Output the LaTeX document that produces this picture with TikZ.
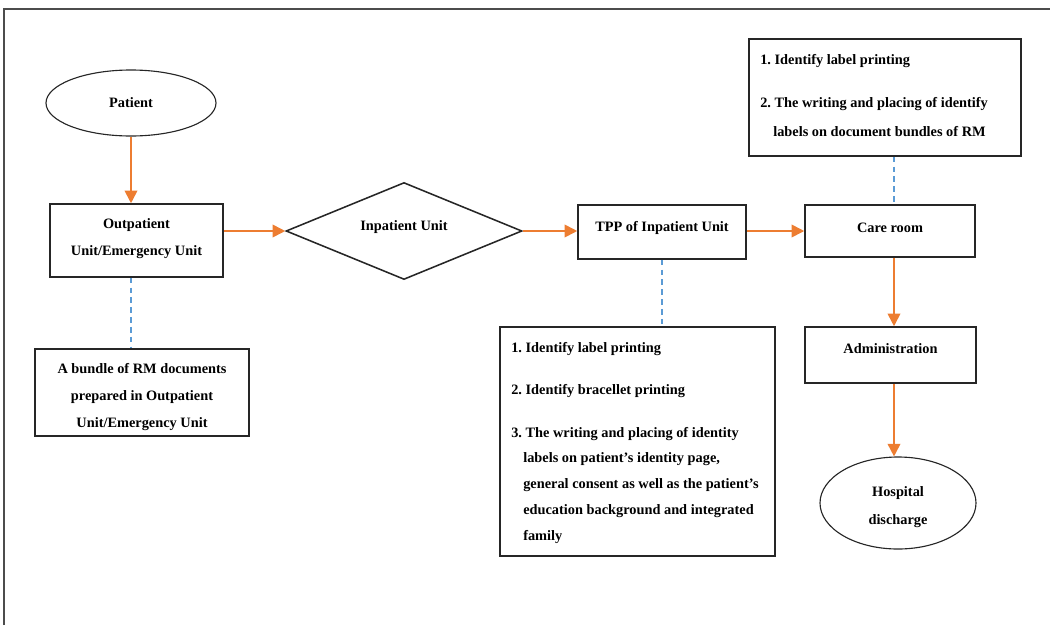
\documentclass[tikz,border=0pt]{standalone}
\usepackage{fontspec}
\setmainfont{Liberation Serif}
\usetikzlibrary{shapes.geometric,arrows.meta}
\definecolor{arrowor}{RGB}{237,125,49}
\definecolor{dashblue}{RGB}{91,155,213}
\def\pu{0.025cm}
\frenchspacing
\begin{document}
\begin{tikzpicture}[x=0.025cm,y=-0.025cm,
  box/.style={draw=black!85, line width=1.1pt, inner sep=0pt, fill=white},
  ell/.style={ellipse, draw=black!85, line width=0.8pt, inner sep=0pt},
  txt/.style={font=\fontsize{10.2}{13}\selectfont\bfseries, inner sep=0pt},
  ltxt/.style={txt, anchor=west},
  flow/.style={draw=arrowor, line width=1.2pt, -{Triangle[length=9pt,width=9pt]}},
  link/.style={draw=dashblue, line width=0.8pt, dash pattern=on 4pt off 3pt}]
\useasboundingbox (0,0) rectangle (1050,625);
% frame
\draw[black!70, line width=1.4pt] (4,625) -- (4,9) -- (1050,9);
% nodes
\node[ell, minimum width=170*\pu, minimum height=66*\pu] (pat) at (131,103) {};
\node[txt] (patT) at (131,103) {Patient};
\node[box, minimum width=173*\pu, minimum height=73*\pu] (opd) at (136.5,240.5) {};
\node[txt] (opdT1) at (136.5,225) {Outpatient};
\node[txt] (opdT2) at (136.5,252) {Unit/Emergency Unit};
\node[diamond, draw=black!85, line width=1.1pt, inner sep=0pt, minimum width=236*\pu, minimum height=97*\pu] (inp) at (404,231) {};
\node[txt] (inpT) at (404,227) {Inpatient Unit};
\node[box, minimum width=168*\pu, minimum height=54*\pu] (tpp) at (662,232) {};
\node[txt] (tppT) at (662,228) {TPP of Inpatient Unit};
\node[box, minimum width=170*\pu, minimum height=52*\pu] (care) at (890,231) {};
\node[txt] (careT) at (890,228) {Care room};
\node[box, minimum width=171*\pu, minimum height=56*\pu] (adm) at (890.5,355) {};
\node[txt] (admT) at (890.5,349) {Administration};
\node[ell, minimum width=156*\pu, minimum height=92*\pu] (dis) at (898,503) {};
\node[txt] (disT1) at (898,493) {Hospital};
\node[txt] (disT2) at (898,521) {discharge};
\node[box, minimum width=214*\pu, minimum height=87*\pu] (bund) at (142,392.5) {};
\node[txt] (bundT1) at (142,369) {A bundle of RM documents};
\node[txt] (bundT2) at (142,397) {prepared in Outpatient};
\node[txt] (bundT3) at (142,424) {Unit/Emergency Unit};
\node[box, minimum width=275*\pu, minimum height=229*\pu] (list) at (637.5,441.5) {};
\node[ltxt] (l1) at (511,349) {1. Identify label printing};
\node[ltxt] (l2) at (511,391) {2. Identify bracellet printing};
\node[ltxt] (l3) at (511,434) {3. The writing and placing of identity};
\node[ltxt] (l4) at (523,459) {labels on patient’s identity page,};
\node[ltxt] (l5) at (523,485) {general consent as well as the patient’s};
\node[ltxt] (l6) at (523,511) {education background and integrated};
\node[ltxt] (l7) at (523,537) {family};
\node[box, minimum width=272*\pu, minimum height=117*\pu] (top) at (885,97.5) {};
\node[ltxt] (k1) at (760,61) {1. Identify label printing};
\node[ltxt] (k2) at (760,104) {2. The writing and placing of identify};
\node[ltxt] (k3) at (773,132) {labels on document bundles of RM};
\coordinate (cx) at (894,0);
% connectors
\draw[flow] (pat.south) -- (pat.south |- opd.north);
\draw[flow] (opd.east |- inp.west) -- (inp.west);
\draw[flow] (inp.east) -- (inp.east -| tpp.west);
\draw[flow] (tpp.east |- inp.east) -- (inp.east -| care.west);
\draw[flow] (cx |- care.south) -- (cx |- adm.north);
\draw[flow] (cx |- adm.south) -- (cx |- dis.north);
\draw[link] (pat |- opd.south) -- (pat |- bund.north);
\draw[link] (tpp.south) -- (tpp.south |- list.north);
\draw[link] (cx |- top.south) -- (cx |- care.north);
\end{tikzpicture}
\end{document}
